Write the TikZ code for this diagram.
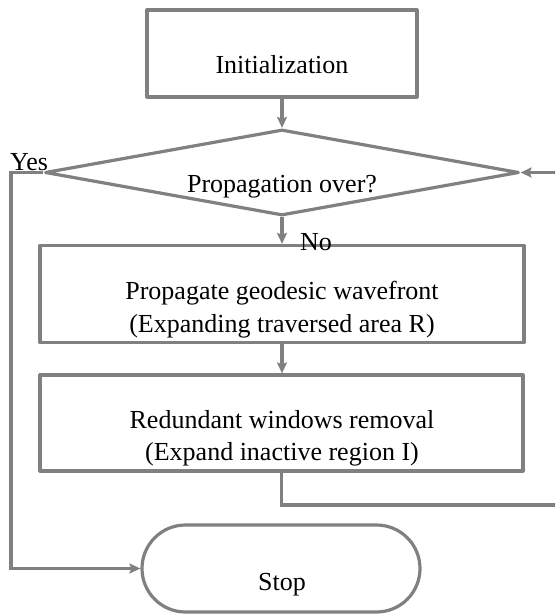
\documentclass[tikz,border=0pt]{standalone}
\usepackage{fontspec}
\setmainfont{Liberation Serif}
\usetikzlibrary{shapes.geometric,shapes.misc,arrows.meta}
\definecolor{linegray}{RGB}{128,128,128}
\begin{document}
\begin{tikzpicture}[x=1pt,y=1pt,
  every node/.style={inner sep=0pt},
  shapeline/.style={draw=linegray, line width=3.2pt, line join=round},
  boxnode/.style={shapeline, rectangle},
  decnode/.style={shapeline, diamond},
  termnode/.style={shapeline, rounded rectangle},
  txt/.style={font=\fontsize{26pt}{32.4pt}\selectfont, text=black},
  conn/.style={draw=linegray, line width=3.2pt},
  arr/.style={conn, -{Stealth[length=11pt,width=10pt,inset=2pt]}},
]
\useasboundingbox (0,0) rectangle (555,-615);
\clip (0,0) rectangle (555,-615);
\fill[white] (0,0) rectangle (555,-615);

% shapes
\node[boxnode, minimum width=270pt, minimum height=87pt] (init) at (282,-53.5) {};
\node[decnode, minimum width=474pt, minimum height=86pt] (dec) at (282,-172.5) {};
\node[boxnode, minimum width=484pt, minimum height=97pt] (prop) at (282,-294) {};
\node[boxnode, minimum width=483pt, minimum height=96pt] (red) at (281.5,-423) {};
\node[termnode, minimum width=278pt, minimum height=87pt] (stop) at (281,-568.5) {};

% texts
\node[txt, anchor=base] (initT) at (282,-73.3) {Initialization};
\node[txt, anchor=base] (decT) at (282,-192) {Propagation over?};
\node[txt, align=center] (propT) at (282,-309.5) {Propagate geodesic wavefront\\(Expanding traversed area R)};
\node[txt, align=center] (redT) at (282,-438.5) {Redundant windows removal\\(Expand inactive region I)};
\node[txt, anchor=base] (stopT) at (282,-590) {Stop};
\node[txt, anchor=base west] (yesT) at (10,-170) {Yes};
\node[txt, anchor=base west] (noT) at (300,-250) {No};

% connectors
\coordinate (yesX) at (11,0);
\coordinate (loopY) at (0,-505);
\coordinate (loopX) at (562,0);
\draw[arr] (init.south) -- (init.south |- dec.north);
\draw[arr] (dec.south) -- (dec.south |- prop.north);
\draw[arr] (prop.south) -- (prop.south |- red.north);
\draw[arr] (dec.west) -- (dec.west -| yesX) |- (stop.west);
\draw[arr] (red.south) -- (red.south |- loopY) -| (loopX |- dec.east) -- (dec.east);
\end{tikzpicture}
\end{document}
